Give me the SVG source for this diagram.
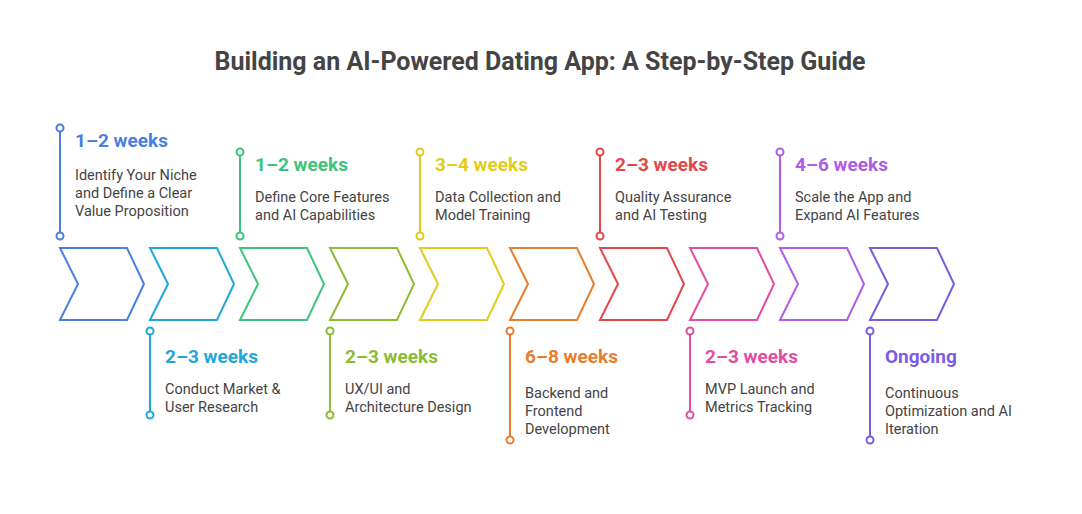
<svg xmlns="http://www.w3.org/2000/svg" width="1082" height="514" viewBox="0 0 1082 514">
<style>
.t{font-family:Roboto,"Liberation Sans",sans-serif;font-weight:bold;font-size:19px}
.b{font-family:Roboto,"Liberation Sans",sans-serif;font-size:14.5px;fill:#444}
.h{font-family:Roboto,"Liberation Sans",sans-serif;font-weight:bold;font-size:25px;fill:#444}
.c{fill:none;stroke-width:2}
.l{stroke-width:2}
.d{fill:#fff;stroke-width:2}
</style>
<rect width="1082" height="514" fill="#fff"/>
<text class="h" x="540" y="70" text-anchor="middle">Building an AI-Powered Dating App: A Step-by-Step Guide</text>
<g id="connectors"></g>
<g id="s1" stroke="#4a7fe0" fill="#4a7fe0"><path class="c" d="M60 248H127L144 284L127 320H60L78 284Z"/><line class="l" x1="60" y1="131" x2="60" y2="232"/><circle class="d" cx="60" cy="128" r="3.5"/><circle class="d" cx="60" cy="236" r="3.5"/><text class="t" x="75" y="147" stroke="none">1–2 weeks</text><text class="b" x="75" y="180" stroke="none">Identify Your Niche</text><text class="b" x="75" y="198" stroke="none">and Define a Clear</text><text class="b" x="75" y="216" stroke="none">Value Proposition</text></g>
<g id="s2" stroke="#1ea8d8" fill="#1ea8d8"><path class="c" d="M150 248H217L234 284L217 320H150L168 284Z"/><line class="l" x1="150" y1="335" x2="150" y2="412"/><circle class="d" cx="150" cy="331" r="3.5"/><circle class="d" cx="150" cy="415" r="3.5"/><text class="t" x="165" y="363" stroke="none">2–3 weeks</text><text class="b" x="165" y="394" stroke="none">Conduct Market &amp;</text><text class="b" x="165" y="412" stroke="none">User Research</text></g>
<g id="s3" stroke="#3cc47c" fill="#3cc47c"><path class="c" d="M240 248H307L324 284L307 320H240L258 284Z"/><line class="l" x1="240" y1="155" x2="240" y2="232"/><circle class="d" cx="240" cy="152" r="3.5"/><circle class="d" cx="240" cy="236" r="3.5"/><text class="t" x="255" y="171" stroke="none">1–2 weeks</text><text class="b" x="255" y="202" stroke="none">Define Core Features</text><text class="b" x="255" y="220" stroke="none">and AI Capabilities</text></g>
<g id="s4" stroke="#8cbc34" fill="#8cbc34"><path class="c" d="M330 248H397L414 284L397 320H330L348 284Z"/><line class="l" x1="330" y1="335" x2="330" y2="412"/><circle class="d" cx="330" cy="331" r="3.5"/><circle class="d" cx="330" cy="415" r="3.5"/><text class="t" x="345" y="363" stroke="none">2–3 weeks</text><text class="b" x="345" y="394" stroke="none">UX/UI and</text><text class="b" x="345" y="412" stroke="none">Architecture Design</text></g>
<g id="s5" stroke="#e2cc1a" fill="#e2cc1a"><path class="c" d="M420 248H487L504 284L487 320H420L438 284Z"/><line class="l" x1="420" y1="155" x2="420" y2="232"/><circle class="d" cx="420" cy="152" r="3.5"/><circle class="d" cx="420" cy="236" r="3.5"/><text class="t" x="435" y="171" stroke="none">3–4 weeks</text><text class="b" x="435" y="202" stroke="none">Data Collection and</text><text class="b" x="435" y="220" stroke="none">Model Training</text></g>
<g id="s6" stroke="#e87e2c" fill="#e87e2c"><path class="c" d="M510 248H577L594 284L577 320H510L528 284Z"/><line class="l" x1="510" y1="335" x2="510" y2="436"/><circle class="d" cx="510" cy="331" r="3.5"/><circle class="d" cx="510" cy="440" r="3.5"/><text class="t" x="525" y="363" stroke="none">6–8 weeks</text><text class="b" x="525" y="398" stroke="none">Backend and</text><text class="b" x="525" y="416" stroke="none">Frontend</text><text class="b" x="525" y="434" stroke="none">Development</text></g>
<g id="s7" stroke="#e4474a" fill="#e4474a"><path class="c" d="M600 248H667L684 284L667 320H600L618 284Z"/><line class="l" x1="600" y1="155" x2="600" y2="232"/><circle class="d" cx="600" cy="152" r="3.5"/><circle class="d" cx="600" cy="236" r="3.5"/><text class="t" x="615" y="171" stroke="none">2–3 weeks</text><text class="b" x="615" y="202" stroke="none">Quality Assurance</text><text class="b" x="615" y="220" stroke="none">and AI Testing</text></g>
<g id="s8" stroke="#e44ca4" fill="#e44ca4"><path class="c" d="M690 248H757L774 284L757 320H690L708 284Z"/><line class="l" x1="690" y1="335" x2="690" y2="412"/><circle class="d" cx="690" cy="331" r="3.5"/><circle class="d" cx="690" cy="415" r="3.5"/><text class="t" x="705" y="363" stroke="none">2–3 weeks</text><text class="b" x="705" y="394" stroke="none">MVP Launch and</text><text class="b" x="705" y="412" stroke="none">Metrics Tracking</text></g>
<g id="s9" stroke="#b05ce4" fill="#b05ce4"><path class="c" d="M780 248H847L864 284L847 320H780L798 284Z"/><line class="l" x1="780" y1="155" x2="780" y2="232"/><circle class="d" cx="780" cy="152" r="3.5"/><circle class="d" cx="780" cy="236" r="3.5"/><text class="t" x="795" y="171" stroke="none">4–6 weeks</text><text class="b" x="795" y="202" stroke="none">Scale the App and</text><text class="b" x="795" y="220" stroke="none">Expand AI Features</text></g>
<g id="s10" stroke="#7a5ce4" fill="#7a5ce4"><path class="c" d="M870 248H937L954 284L937 320H870L888 284Z"/><line class="l" x1="870" y1="335" x2="870" y2="436"/><circle class="d" cx="870" cy="331" r="3.5"/><circle class="d" cx="870" cy="440" r="3.5"/><text class="t" x="885" y="363" stroke="none">Ongoing</text><text class="b" x="885" y="398" stroke="none">Continuous</text><text class="b" x="885" y="416" stroke="none">Optimization and AI</text><text class="b" x="885" y="434" stroke="none">Iteration</text></g>
</svg>
